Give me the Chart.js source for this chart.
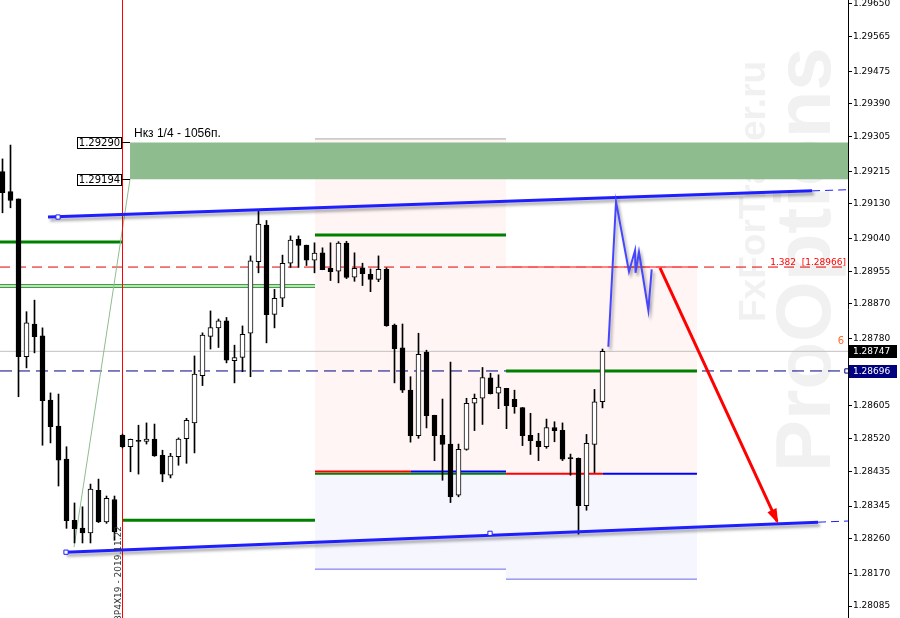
<!DOCTYPE html>
<html>
<head>
<meta charset="utf-8">
<script src="https://cdn.jsdelivr.net/npm/chart.js@4.4.0/dist/chart.umd.min.js"></script>
<style>
  html, body { margin: 0; padding: 0; background: #fff; }
  #chart { display: block; }
</style>
</head>
<body>
<canvas id="chart" width="900" height="618"></canvas>
<script>
// свечи (индекс бара = позиция по оси X)
const opens = [1.29214,1.29162,1.29143,1.28733,1.28818,1.28787,1.28620,1.28553,1.28467,1.28308,
  1.28288,1.28275,1.28386,1.28304,1.28362,1.28529,1.28499,1.28516,1.28513,1.28519,
  1.28477,1.28425,1.28473,1.28520,1.28561,1.28684,1.28786,1.28808,1.28826,1.28723,
  1.28731,1.28794,1.28980,1.29075,1.28843,1.28885,1.28976,1.29038,1.29023,1.28984,
  1.29003,1.28963,1.28955,1.29028,1.28940,1.28964,1.28947,1.28934,1.28960,1.28815,
  1.28756,1.28646,1.28528,1.28745,1.28581,1.28529,1.28506,1.28373,1.28492,1.28612,
  1.28625,1.28678,1.28638,1.28651,1.28622,1.28601,1.28529,1.28514,1.28499,1.28549,
  1.28542,1.28469,1.28469,1.28346,1.28505,1.28616];
const highs = [1.29247,1.29283,1.29143,1.28850,1.28880,1.28808,1.28639,1.28636,1.28499,1.28353,
  1.28343,1.28402,1.28415,1.28371,1.28371,1.28532,1.28519,1.28555,1.28561,1.28558,
  1.28490,1.28482,1.28522,1.28573,1.28735,1.28795,1.28852,1.28831,1.28835,1.28763,
  1.28813,1.28995,1.29114,1.29087,1.28908,1.28997,1.29047,1.29047,1.29023,1.29029,
  1.29016,1.29029,1.29032,1.29033,1.29003,1.28976,1.28961,1.28995,1.28964,1.28818,
  1.28818,1.28681,1.28794,1.28750,1.28581,1.28623,1.28719,1.28506,1.28625,1.28636,
  1.28705,1.28690,1.28686,1.28651,1.28646,1.28601,1.28586,1.28534,1.28571,1.28564,
  1.28561,1.28480,1.28470,1.28531,1.28648,1.28753];
const lows = [1.29107,1.29120,1.28629,1.28704,1.28743,1.28503,1.28509,1.28397,1.28287,1.28249,
  1.28249,1.28249,1.28302,1.28300,1.28256,1.28496,1.28434,1.28428,1.28506,1.28474,
  1.28408,1.28418,1.28451,1.28456,1.28483,1.28658,1.28753,1.28757,1.28717,1.28665,
  1.28694,1.28681,1.28951,1.28769,1.28808,1.28863,1.28965,1.28965,1.28970,1.28951,
  1.28959,1.28931,1.28925,1.28936,1.28929,1.28918,1.28902,1.28928,1.28812,1.28665,
  1.28640,1.28511,1.28521,1.28548,1.28463,1.28412,1.28354,1.28369,1.28490,1.28541,
  1.28557,1.28636,1.28598,1.28546,1.28586,1.28502,1.28479,1.28463,1.28495,1.28512,
  1.28463,1.28425,1.28272,1.28334,1.28432,1.28600];
const closes = [1.29159,1.29139,1.28733,1.28821,1.28785,1.28619,1.28551,1.28464,1.28307,1.28286,
  1.28275,1.28389,1.28304,1.28365,1.28278,1.28499,1.28518,1.28513,1.28519,1.28475,
  1.28428,1.28475,1.28519,1.28568,1.28688,1.28789,1.28809,1.28826,1.28724,1.28731,
  1.28791,1.28982,1.29078,1.28842,1.28885,1.28976,1.29036,1.29022,1.28984,1.29002,
  1.28959,1.28954,1.29028,1.28939,1.28963,1.28949,1.28934,1.28960,1.28814,1.28754,
  1.28646,1.28528,1.28739,1.28580,1.28528,1.28505,1.28369,1.28492,1.28612,1.28625,
  1.28679,1.28637,1.28654,1.28606,1.28603,1.28528,1.28515,1.28499,1.28549,1.28541,
  1.28467,1.28468,1.28346,1.28508,1.28616,1.28747];

// шкала цен
const yTicks = [1.29650,1.29565,1.29475,1.29390,1.29305,1.29215,1.29130,1.29040,1.28955,
  1.28870,1.28780,1.28605,1.28520,1.28435,1.28345,1.28260,1.28170,1.28085];
const yMin = 1.28054, yMax = 1.29660;
const xMin = -0.3125, xMax = 105.6875;

// разметка: [от бара, до бара, цена]
const zoneBox = [15.94, xMax, 1.29290, 1.29194];          // зона Нкз 1/4
const pinkBoxes = [[39.06, 62.94, 1.29299, 1.28431], [62.94, 86.81, 1.28966, 1.28427]];
const lilacBoxes = [[39.06, 62.94, 1.28431, 1.28181], [62.94, 86.81, 1.28427, 1.28155]];
const greenLevels = [[xMin, 15, 1.29031], [15, 39.06, 1.28308], [39.06, 62.94, 1.29049], [62.94, 86.81, 1.28696]];
const redThin = [[39.06, 51.06, 1.28433], [62.94, 75.06, 1.28427]];
const blueThin = [[51.06, 62.94, 1.28433], [75.06, 86.81, 1.28427]];
const greenThin = [[39.06, 62.94, 1.28429]];
const boxEdges = [[39.06, 62.94, 1.29299, '#a8a8a8'], [39.06, 62.94, 1.28181, '#6a6ae6'], [62.94, 86.81, 1.28155, '#6a6ae6']];
const fibLevel = 1.28966;
const lastPrice = 1.28747;
const navyLevel = 1.28696;
const doubleGreen = [xMin, 39.06, 1.28917];
const channelTop = [[5.69, 1.29096], [101.2, 1.29164], [xMax, 1.29167]];
const channelBottom = [[7.81, 1.28225], [101.94, 1.28303], [xMax, 1.28306]];
const channelMarks = [[6.94, 1.29096], [7.94, 1.28225], [60.94, 1.28274]];
const fanLine = [[8.94, 1.28238], [15.94, 1.29194]];
const dateBar = 15;
const forecast = [[75.73, 1.28759], [76.69, 1.29136], [78.31, 1.28954], [79.06, 1.29009],
  [79.13, 1.28951], [79.56, 1.29005], [80.73, 1.28854], [81.15, 1.28960]];
const arrowPts = [[82.19, 1.28964], [96.81, 1.28306]];

const idx = opens.map((_, i) => i);

function seg(pts, color, width, dash, order, extra) {
  return Object.assign({
    type: 'line',
    data: pts.map(p => ({ x: p[0], y: p[1] })),
    borderColor: color, borderWidth: width, borderDash: dash || [],
    pointRadius: 0, fill: false, tension: 0, order: order
  }, extra || {});
}
function box(b, color, order) {
  return seg([[b[0], b[2]], [b[1], b[2]]], 'rgba(0,0,0,0)', 0, null, order,
    { fill: { value: b[3] }, backgroundColor: color });
}

const datasets = [];
// фоновые прямоугольники
pinkBoxes.forEach(b => datasets.push(box(b, '#fff5f5', 30)));
lilacBoxes.forEach(b => datasets.push(box(b, '#f6f6ff', 30)));
datasets.push(box(zoneBox, '#8fbc8f', 29));
boxEdges.forEach(b => datasets.push(seg([[b[0], b[2]], [b[1], b[2]]], b[3], 1, null, 28)));

// горизонтальные уровни
datasets.push(seg([[xMin, fibLevel], [xMax, fibLevel]], '#e00000', 1, [10, 6], 20));
datasets.push(seg([[62.94, fibLevel], [86.81, fibLevel]], '#ff5a5a', 1.5, null, 19));
datasets.push(seg([[xMin, lastPrice], [xMax, lastPrice]], '#c0c0c0', 1, null, 20));
datasets.push(seg([[xMin, navyLevel], [xMax, navyLevel]], '#000080', 1, [12, 6], 20));
datasets.push(seg([[doubleGreen[0], doubleGreen[2]], [doubleGreen[1], doubleGreen[2]]], '#008000', 3.5, null, 18));
datasets.push(seg([[doubleGreen[0], doubleGreen[2]], [doubleGreen[1], doubleGreen[2]]], '#ffffff', 1.5, null, 17));
greenThin.forEach(l => datasets.push(seg([[l[0], l[2]], [l[1], l[2]]], '#008000', 2, null, 16)));
redThin.forEach(l => datasets.push(seg([[l[0], l[2] + 0.00002], [l[1], l[2] + 0.00002]], '#ff0000', 2, null, 15)));
blueThin.forEach(l => datasets.push(seg([[l[0], l[2] + 0.00002], [l[1], l[2] + 0.00002]], '#0000ff', 2, null, 15)));
greenLevels.forEach(l => datasets.push(seg([[l[0], l[2]], [l[1], l[2]]], '#008000', 3, null, 14)));

// вертикальная линия даты и веер
datasets.push(seg([[dateBar, yMin], [dateBar, yMax]], '#ff0000', 1, null, 13));
datasets.push(seg(fanLine, '#8fbc8f', 1, null, 13));

// канал
datasets.push(seg(channelTop.slice(0, 2), '#1e1eff', 3, null, 3, { shadow: true }));
datasets.push(seg(channelTop.slice(1), '#1e1eff', 1, [8, 5], 3));
datasets.push(seg(channelBottom.slice(0, 2), '#1e1eff', 3, null, 3, { shadow: true }));
datasets.push(seg(channelBottom.slice(1), '#1e1eff', 1, [8, 5], 3));
datasets.push(seg(channelMarks, '#1e1eff', 1, null, 2, {
  showLine: false, pointRadius: 3, pointStyle: 'rect', pointBackgroundColor: '#fff',
  pointBorderColor: '#1e1eff', pointBorderWidth: 1
}));
datasets.push(seg([[105.55, navyLevel]], '#000080', 1, null, 2, {
  showLine: false, pointRadius: 3, pointStyle: 'rect', pointBackgroundColor: '#fff',
  pointBorderColor: '#000080', pointBorderWidth: 1
}));

// прогноз
datasets.push(seg(forecast, '#4646ff', 2, null, 2, { shadow: true }));
const arrowIndex = datasets.length;
datasets.push(seg(arrowPts, '#ff0000', 3, null, 2));

// свечи: тени и тела
datasets.push({
  type: 'bar', data: idx.map(i => ({ x: i, y: [lows[i], highs[i]] })),
  backgroundColor: '#000', barThickness: 1, grouped: false, order: 6
});
datasets.push({
  type: 'bar', data: idx.map(i => ({ x: i, y: [opens[i], closes[i]] })),
  backgroundColor: idx.map(i => closes[i] >= opens[i] ? '#ffffff' : '#000000'),
  borderColor: '#000', borderWidth: 1, borderSkipped: false,
  barThickness: 5, minBarLength: 1, grouped: false, order: 5
});

const overlay = {
  id: 'overlay',
  beforeDatasetsDraw(chart) {
    const ctx = chart.ctx;
    ctx.save();
    ctx.fillStyle = '#f1f1f1';
    ctx.font = 'bold 78px "Liberation Sans"';
    ctx.translate(830, 472);
    ctx.rotate(-Math.PI / 2);
    ctx.fillText('ProOptions', 0, 0);
    ctx.restore();
    ctx.save();
    ctx.fillStyle = '#f1f1f1';
    ctx.font = 'bold 37px "Liberation Sans"';
    ctx.translate(765, 322);
    ctx.rotate(-Math.PI / 2);
    ctx.fillText('FxForTrader.ru', 0, 0);
    ctx.restore();
  },
  beforeDatasetDraw(chart, args) {
    if (chart.data.datasets[args.index].shadow) {
      const ctx = chart.ctx;
      ctx.save();
      ctx.shadowColor = 'rgba(0,0,0,0.35)';
      ctx.shadowBlur = 3;
      ctx.shadowOffsetX = 2;
      ctx.shadowOffsetY = 3;
    }
  },
  afterDatasetDraw(chart, args) {
    if (chart.data.datasets[args.index].shadow) chart.ctx.restore();
  },
  afterDraw(chart) {
    const ctx = chart.ctx, xs = chart.scales.x, ys = chart.scales.y;
    ctx.save();
    // стрелка
    const pts = chart.getDatasetMeta(arrowIndex).data;
    const a = pts[0], b = pts[1];
    const ang = Math.atan2(b.y - a.y, b.x - a.x);
    ctx.fillStyle = '#ff0000';
    ctx.beginPath();
    ctx.moveTo(b.x + 3 * Math.cos(ang), b.y + 3 * Math.sin(ang));
    ctx.lineTo(b.x - 12 * Math.cos(ang) + 5 * Math.sin(ang), b.y - 12 * Math.sin(ang) - 5 * Math.cos(ang));
    ctx.lineTo(b.x - 12 * Math.cos(ang) - 5 * Math.sin(ang), b.y - 12 * Math.sin(ang) + 5 * Math.cos(ang));
    ctx.closePath();
    ctx.fill();

    // ценовые метки зоны
    const xr = xs.getPixelForValue(dateBar);
    ctx.font = '10px "DejaVu Sans"';
    ctx.textBaseline = 'middle';
    [zoneBox[2], zoneBox[3]].forEach(v => {
      const y = Math.round(ys.getPixelForValue(v)) + 0.5;
      ctx.fillStyle = '#fff';
      ctx.fillRect(77.5, y - 5, 44, 11);
      ctx.strokeStyle = '#000';
      ctx.lineWidth = 1;
      ctx.strokeRect(77.5, y - 5, 44, 11);
      ctx.beginPath();
      ctx.moveTo(121.5, y); ctx.lineTo(xs.getPixelForValue(zoneBox[0]), y);
      ctx.stroke();
      ctx.fillStyle = '#000';
      ctx.textAlign = 'center';
      ctx.fillText(v.toFixed(5), 99.5, y + 1);
    });
    ctx.textAlign = 'left';
    ctx.textBaseline = 'alphabetic';
    ctx.font = '12px "Liberation Sans"';
    ctx.fillStyle = '#000';
    ctx.fillText('Нкз 1/4 - 1056п.', xs.getPixelForValue(zoneBox[0]) + 4, ys.getPixelForValue(zoneBox[2]) - 5);

    // метка фибо
    ctx.font = '9px "DejaVu Sans"';
    ctx.fillStyle = '#ff0000';
    ctx.textAlign = 'right';
    ctx.fillText('1.382  [' + fibLevel.toFixed(5) + ']', 846, ys.getPixelForValue(fibLevel) - 2);
    ctx.fillStyle = '#ff6a2a';
    ctx.font = '10px "DejaVu Sans"';
    ctx.fillText('6', 844, ys.getPixelForValue(lastPrice) - 7);

    // дата у вертикальной линии
    ctx.save();
    ctx.translate(xr - 2, 621);
    ctx.rotate(-Math.PI / 2);
    ctx.textAlign = 'left';
    ctx.fillStyle = '#333';
    ctx.font = '9px "DejaVu Sans"';
    ctx.fillText('ЗР4Х19 - 2019.11.22', 0, 0);
    ctx.restore();

    // метки на шкале цен
    ctx.textAlign = 'left';
    ctx.textBaseline = 'middle';
    ctx.font = '9px "DejaVu Sans"';
    [[lastPrice, '#000'], [navyLevel, '#000080']].forEach(([v, c]) => {
      const y = Math.round(ys.getPixelForValue(v));
      ctx.fillStyle = c;
      ctx.fillRect(849, y - 6, 48, 13);
      ctx.fillStyle = '#fff';
      ctx.fillText(v.toFixed(5), 853, y + 1);
    });
    ctx.restore();
  }
};

new Chart(document.getElementById('chart'), {
  type: 'bar',
  data: { datasets: datasets },
  options: {
    responsive: false,
    animation: false,
    devicePixelRatio: 1,
    layout: { padding: 0, autoPadding: false },
    plugins: { legend: { display: false }, tooltip: { enabled: false } },
    scales: {
      x: { type: 'linear', display: false, min: xMin, max: xMax, offset: false },
      y: {
        type: 'linear', position: 'right', min: yMin, max: yMax,
        afterBuildTicks: s => { s.ticks = yTicks.map(v => ({ value: v })); },
        afterFit: s => { s.width = 52; s.paddingTop = 0; s.paddingBottom = 0; },
        grid: { drawOnChartArea: false, drawTicks: true, tickLength: 4, color: '#000' },
        border: { display: true, color: '#000' },
        ticks: {
          autoSkip: false, padding: 1, color: '#000',
          font: { family: 'DejaVu Sans', size: 9 },
          callback: v => v.toFixed(5)
        }
      }
    }
  },
  plugins: [overlay]
});
</script>
</body>
</html>
